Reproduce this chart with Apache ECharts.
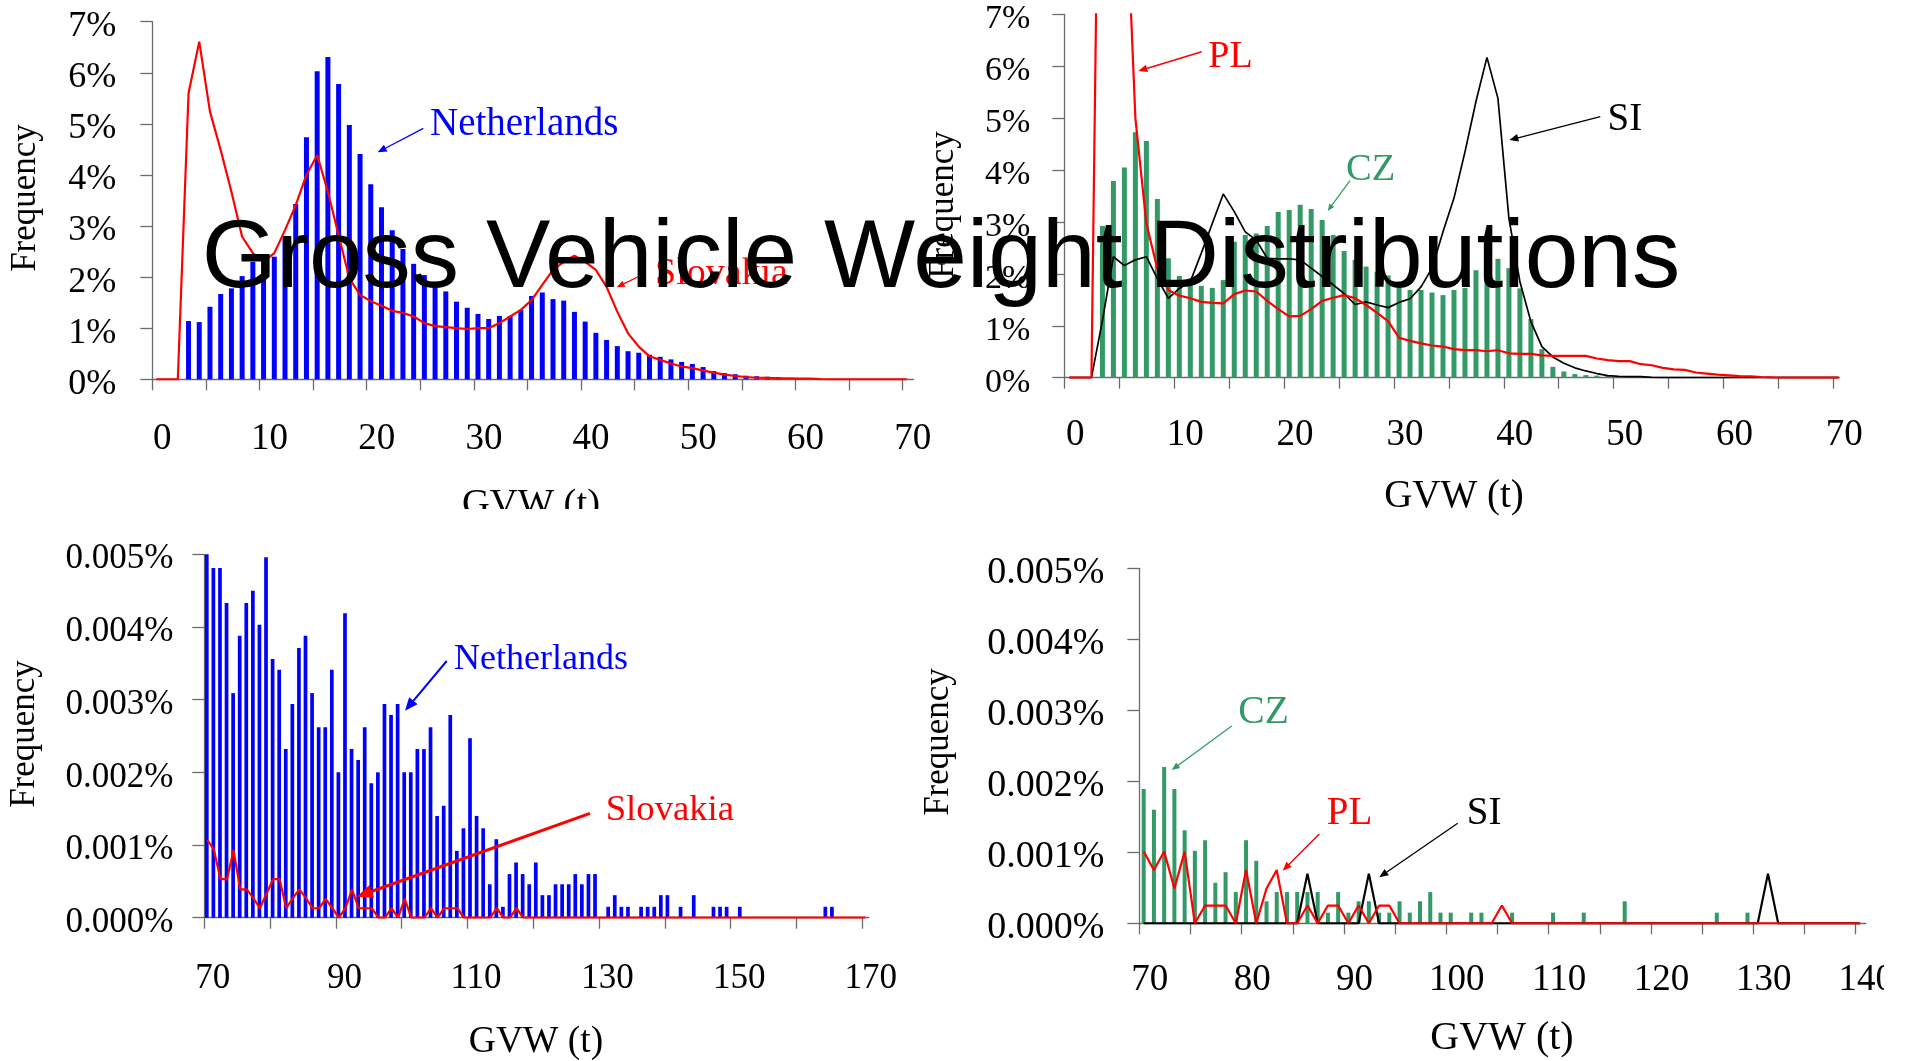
<!DOCTYPE html>
<html><head><meta charset="utf-8">
<script src="https://cdn.jsdelivr.net/npm/echarts@6/dist/echarts.min.js"></script>
<style>html,body{margin:0;padding:0;background:#fff}#c{width:1914px;height:1061px}</style>
</head><body><div id="c"></div>
<script>
// ---------- DATA (frequency in %, one value per 1-t GVW bin) ----------
// Top-left: Netherlands (bars, bins 3..58) and Slovakia (line, bins 0..70)
const nlTopFirstBin = 3;
const nlTopFreq = [1.14,1.12,1.42,1.67,1.78,2.02,2.30,2.40,2.40,2.80,3.43,4.74,6.03,6.31,5.78,4.98,4.41,3.82,3.37,2.92,
  2.55,2.26,2.04,1.90,1.72,1.52,1.40,1.28,1.18,1.24,1.24,1.36,1.63,1.70,1.57,1.54,1.32,1.13,0.91,0.77,
  0.65,0.55,0.52,0.48,0.44,0.39,0.34,0.30,0.24,0.16,0.12,0.10,0.07,0.06,0.05,0.04];
const skTopFirstBin = 0;
const skTopFreq = [0,0,0,5.60,6.61,5.24,4.49,3.67,2.79,2.47,
  2.30,2.47,2.92,3.41,4.00,4.39,3.67,2.82,1.98,1.65,
  1.53,1.44,1.34,1.30,1.23,1.10,1.04,1.02,1.00,0.985,
  1.00,1.00,1.10,1.23,1.36,1.55,1.85,2.14,2.30,2.42,
  2.30,2.14,1.81,1.32,0.90,0.64,0.45,0.38,0.31,0.25,
  0.22,0.17,0.13,0.09,0.065,0.045,0.03,0.026,0.02,0.02,
  0.015,0.013,0.005,0,0,0,0,0,0,0,0];
// Top-right: CZ (bars, bins 3..49), PL and SI (lines, bins 0..70)
const czTopFirstBin = 3;
const czTopFreq = [2.92,3.79,4.05,4.73,4.56,3.44,2.30,1.96,1.85,1.77,1.73,1.88,2.62,2.75,2.78,2.92,3.19,3.23,3.33,3.25,
  3.04,2.75,2.44,2.27,2.14,2.04,1.97,1.85,1.69,1.69,1.64,1.59,1.69,1.73,2.07,2.18,2.29,2.11,1.72,1.13,
  0.55,0.21,0.12,0.07,0.05,0.04,0.03];
const plTopFirstBin = 0;
const plTopFreq = [0,0,0,16.7,14.0,10.1,5.00,2.97,2.10,1.69,
  1.58,1.53,1.46,1.44,1.43,1.61,1.68,1.66,1.48,1.32,
  1.18,1.19,1.32,1.48,1.54,1.59,1.53,1.40,1.25,1.09,
  0.77,0.71,0.66,0.62,0.60,0.55,0.53,0.53,0.51,0.53,
  0.47,0.46,0.46,0.43,0.42,0.42,0.42,0.42,0.37,0.34,
  0.32,0.32,0.26,0.24,0.19,0.16,0.15,0.10,0.08,0.06,
  0.045,0.03,0.026,0.013,0.006,0,0,0,0,0,0];
const siTopFirstBin = 0;
const siTopFreq = [0,0,0,1.10,2.33,2.16,2.27,2.33,1.91,1.53,
  1.72,1.85,2.40,2.97,3.54,3.20,2.81,2.65,2.30,2.29,
  2.29,2.27,2.11,1.95,1.79,1.62,1.41,1.46,1.40,1.35,
  1.45,1.52,1.75,2.11,2.81,3.46,4.35,5.32,6.17,5.38,
  3.07,1.85,1.08,0.60,0.40,0.28,0.19,0.13,0.08,0.04,
  0.026,0.02,0.02,0.006,0,0,0,0,0,0,
  0,0,0,0,0,0,0,0,0,0,0];
// Bottom-left: Netherlands (bars, bins 70..165) and Slovakia (line, bins 70..170)
const nlLowFirstBin = 70;
const nlLowFreq = [0.00505,0.00481,0.00481,0.00433,0.00309,0.00388,0.00433,0.00450,0.00403,0.00496,
  0.00356,0.00341,0.00232,0.00294,0.00371,0.00388,0.00309,0.00262,0.00262,0.00341,
  0.00200,0.00419,0.00232,0.00217,0.00262,0.00185,0.00200,0.00294,0.00279,0.00294,
  0.00200,0.00200,0.00232,0.00232,0.00262,0.00140,0.00154,0.00279,0.00092,0.00123,
  0.00247,0.00140,0.00123,0.00046,0.00108,0.00015,0.00060,0.00076,0.00060,0.00046,
  0.00076,0.00031,0.00031,0.00046,0.00046,0.00046,0.00060,0.00046,0.00060,0.00060,
  0,0.00015,0.00031,0.00015,0.00015,0,0.00015,0.00015,0.00015,0.00031,
  0.00031,0,0.00015,0,0.00031,0,0,0.00015,0.00015,0.00015,
  0,0.00015,0,0,0,0,0,0,0,0,
  0,0,0,0,0.00015,0.00015];
const skLowFirstBin = 70;
const skLowFreq = [0.00107,0.00094,0.00053,0.00053,0.00093,0.00039,0.00039,0.00027,0.00013,0.00033,
  0.00053,0.00053,0.00013,0.00027,0.00039,0.00027,0.00013,0.00013,0.00026,0.00013,
  0,0.00013,0.00039,0.00013,0.00013,0.00013,0,0,0.00013,0,
  0.00026,0,0,0,0.00013,0,0.00013,0.00013,0.00013,0,
  0,0,0,0,0.00013,0,0,0.00013,0,0,
  0,0,0,0,0,0,0,0,0,0, 0,0,0,0,0,0,0,0,0,0, 0,0,0,0,0,0,0,0,0,0,
  0,0,0,0,0,0,0,0,0,0, 0,0,0,0,0,0,0,0,0,0, 0];
// Bottom-right: CZ (bars, bins 70..129), PL and SI (lines, bins 70..140)
const czLowFirstBin = 70;
const czLowFreq = [0.00189,0.00160,0.00220,0.00189,0.00131,0.00102,0.00117,0.00057,0.00072,0.00044,
  0.00117,0.00088,0.00031,0.00044,0.00044,0.00044,0.00044,0.00044,0.00015,0.00044,
  0.00015,0.00031,0.00031,0.00015,0.00015,0.00031,0.00015,0.00031,0.00044,0.00015,
  0.00015,0,0.00015,0.00015,0,0,0.00015,0,0,0,
  0.00015,0,0,0.00015,0,0,0,0.00031,0,0,
  0,0,0,0,0,0,0.00015,0,0,0.00015];
const plLowFirstBin = 70;
const plLowFreq = [0.00101,0.00075,0.00101,0.00049,0.00101,0,0.00025,0.00025,0.00025,0,
  0.00075,0,0.00049,0.00075,0,0,0.00025,0,0.00025,0.00025,
  0,0.00025,0,0.00025,0.00025,0,0,0,0,0,
  0,0,0,0,0,0.00025,0,0,0,0,
  0,0,0,0,0,0,0,0,0,0, 0,0,0,0,0,0,0,0,0,0, 0,0,0,0,0,0,0,0,0,0, 0];
const siLowFirstBin = 70;
const siLowFreq = [0,0,0,0,0,0,0,0,0,0,
  0,0,0,0,0,0,0.00070,0,0,0,
  0,0,0.00070,0,0,0,0,0,0,0,
  0,0,0,0,0,0,0,0,0,0, 0,0,0,0,0,0,0,0,0,0, 0,0,0,0,0,0,0,0,0,0,
  0,0.00070,0,0,0,0,0,0,0,0, 0];
// Axis tick / label values
const topTicks = [0,5,10,15,20,25,30,35,40,45,50,55,60,65,70];
const topLabels = [0,10,20,30,40,50,60,70];
const lowLTicks = [70,80,90,100,110,120,130,140,150,160,170];
const lowLLabels = [70,90,110,130,150,170];
const lowRTicks = [70,75,80,85,90,95,100,105,110,115,120,125,130,135,140];
const lowRLabels = [70,80,90,100,110,120,130,140];

// ---------- helpers ----------
function pts(first, vals, off) { return vals.map((v, i) => [first + i + off, v]); }
const AX = '#6b6b6b';
const SERIF = '"Liberation Serif", "Times New Roman", serif';

function xAxisCfg(grid, max, min, ticks, labels, fs, margin, shift) {
  return {
    type: 'value', gridIndex: grid, min: min, max: max,
    axisLine: {show: true, onZero: true, lineStyle: {color: AX, width: 1.3}},
    axisTick: {show: true, inside: false, length: 11, customValues: ticks, lineStyle: {color: AX, width: 1.3}},
    axisLabel: {show: true, customValues: labels, color: '#000', fontFamily: SERIF, fontSize: fs,
      margin: margin, padding: [0, 0, 0, shift],
      formatter: v => (labels.indexOf(v) >= 0 ? String(v) : '')},
    splitLine: {show: false}
  };
}
function yAxisCfg(grid, max, interval, fmt, fs, margin, down) {
  return {
    type: 'value', gridIndex: grid, min: 0, max: max, interval: interval,
    axisLine: {show: true, lineStyle: {color: AX, width: 1.3}},
    axisTick: {show: true, inside: false, length: 12, lineStyle: {color: AX, width: 1.3}},
    axisLabel: {color: '#000', fontFamily: SERIF, fontSize: fs, margin: margin,
      verticalAlign: 'top', lineHeight: down * 2, formatter: fmt},
    splitLine: {show: false}
  };
}
function bar(idx, data, color, w) {
  return {type: 'bar', xAxisIndex: idx, yAxisIndex: idx, data: data, barWidth: w,
    itemStyle: {color: color}, z: 2, silent: true};
}
function line(idx, data, color, w, z) {
  return {type: 'line', xAxisIndex: idx, yAxisIndex: idx, data: data, symbol: 'none',
    lineStyle: {color: color, width: w}, clip: true, z: z || 3, silent: true};
}
function txt(s, x, baseline, size, color, align) {
  return {type: 'text', x: x, y: baseline - 0.3375 * size + 5, z: 100,
    style: {text: s, fill: color, font: size + 'px ' + SERIF, align: align || 'left', verticalAlign: 'middle',
      textAlign: align || 'left', textVerticalAlign: 'middle'}};
}
function vtxt(s, cx, cy, size) {
  return {type: 'text', x: cx, y: cy, rotation: Math.PI / 2, z: 100,
    style: {text: s, fill: '#000', font: size + 'px ' + SERIF, align: 'center', verticalAlign: 'middle',
      textAlign: 'center', textVerticalAlign: 'middle'}};
}
function arrow(x1, y1, x2, y2, color, w, head) {
  const a = Math.atan2(y2 - y1, x2 - x1);
  const hw = head * 0.42;
  const bx = x2 - head * Math.cos(a), by = y2 - head * Math.sin(a);
  return [
    {type: 'line', z: 100, shape: {x1: x1, y1: y1, x2: bx + Math.cos(a) * 2, y2: by + Math.sin(a) * 2},
      style: {stroke: color, lineWidth: w}},
    {type: 'polygon', z: 100, shape: {points: [[x2, y2], [bx + hw * Math.sin(a), by - hw * Math.cos(a)],
      [bx - hw * Math.sin(a), by + hw * Math.cos(a)]]}, style: {fill: color}}
  ];
}

const chart = echarts.init(document.getElementById('c'), null, {renderer: 'canvas', width: 1914, height: 1061});
const pctInt = v => v + '%';
const pct3 = v => v.toFixed(3) + '%';

const graphics = [].concat(
  [{type: 'text', x: 941, y: 290 - 0.3465 * 96.5 + 4, z: 200,
    style: {text: 'Gross Vehicle Weight Distributions', fill: '#000', font: '96.5px "Liberation Sans", Arial, sans-serif',
      align: 'center', verticalAlign: 'middle', textAlign: 'center', textVerticalAlign: 'middle'}}],
  // axis titles
  [vtxt('Frequency', 26, 198, 35), vtxt('Frequency', 944, 205, 35),
   vtxt('Frequency', 25, 734, 35), vtxt('Frequency', 939, 742, 35),
   txt('GVW (t)', 531, 513, 38.5, '#000', 'center'), txt('GVW (t)', 1454, 505, 39, '#000', 'center'),
   txt('GVW (t)', 536, 1050, 37.5, '#000', 'center'), txt('GVW (t)', 1502, 1047, 40, '#000', 'center')],
  // annotations
  [txt('Netherlands', 430, 133.3, 39, '#0000ff')], arrow(423.3, 128.3, 377.7, 152.3, '#0000ff', 1.3, 9),
  [txt('Slovakia', 655, 281.7, 38, '#ff0000')], arrow(641.7, 275, 616.7, 287.3, '#ff0000', 1.3, 8),
  [txt('PL', 1208.3, 65, 38, '#ff0000')], arrow(1201.7, 51.7, 1138.3, 71, '#ff0000', 1.5, 9),
  [txt('CZ', 1346, 177.7, 38.5, '#339966')], arrow(1350, 180.7, 1327.7, 211, '#339966', 1.2, 7),
  [txt('SI', 1607.6, 127.7, 39, '#000000')], arrow(1600.3, 116.7, 1509.3, 140, '#000000', 1.3, 9),
  [txt('Netherlands', 454, 666.7, 36, '#0000ff')], arrow(446.7, 661, 405, 710.7, '#0000ff', 2, 13),
  [txt('Slovakia', 605.7, 817.3, 36.7, '#ff0000')], arrow(590, 813.3, 356.7, 896.7, '#ff0000', 3, 16),
  [txt('CZ', 1238.3, 721, 39.5, '#339966')], arrow(1231.7, 726, 1171.7, 770, '#339966', 1.3, 8),
  [txt('PL', 1326.7, 822.3, 39, '#ff0000')], arrow(1319.3, 834, 1282.7, 870.7, '#ff0000', 1.5, 9),
  [txt('SI', 1466.7, 822.3, 39, '#000000')], arrow(1457.7, 823.3, 1379.3, 877.3, '#000000', 1.3, 9),
  // page edges of the original picture
  [{type: 'rect', z: 150, shape: {x: 430, y: 509, width: 220, height: 28}, style: {fill: '#fff'}},
   {type: 'rect', z: 150, shape: {x: 1884, y: 930, width: 30, height: 80}, style: {fill: '#fff'}}]
);

chart.setOption({
  animation: false,
  backgroundColor: '#fff',
  grid: [
    {left: 152.3, top: 21.7, width: 761.1, height: 357.6},
    {left: 1064.3, top: 14.3, width: 775.1, height: 363.4},
    {left: 204.3, top: 554.3, width: 664.6, height: 363.4},
    {left: 1139.3, top: 568.3, width: 726.6, height: 355}
  ],
  xAxis: [
    xAxisCfg(0, 71, 0, topTicks, topLabels, 37, 41, 20),
    xAxisCfg(1, 70.55, 0, topTicks, topLabels, 37, 39, 22),
    xAxisCfg(2, 171, 70, lowLTicks, lowLLabels, 35, 44, 17),
    xAxisCfg(3, 141, 70, lowRTicks, lowRLabels, 37, 38, 21)
  ],
  yAxis: [
    yAxisCfg(0, 7, 1, pctInt, 36, 36, 5),
    yAxisCfg(1, 7, 1, pctInt, 34, 34, 5),
    yAxisCfg(2, 0.005, 0.001, pct3, 35, 31, 5),
    yAxisCfg(3, 0.005, 0.001, pct3, 38, 35, 5)
  ],
  series: [
    bar(0, pts(nlTopFirstBin, nlTopFreq, 0.38), '#0000ff', 5),
    line(0, pts(skTopFirstBin, skTopFreq, 0.38), '#ff0000', 2.2),
    bar(1, pts(czTopFirstBin, czTopFreq, 0.47), '#339966', 5),
    line(1, pts(siTopFirstBin, siTopFreq, 0.47), '#000000', 1.7, 3),
    line(1, pts(plTopFirstBin, plTopFreq, 0.47), '#ff0000', 2.2, 4),
    bar(2, pts(nlLowFirstBin, nlLowFreq, 0.38), '#0000ff', 3.7),
    line(2, pts(skLowFirstBin, skLowFreq, 0.45), '#ff0000', 2.2),
    bar(3, pts(czLowFirstBin, czLowFreq, 0.43), '#339966', 4),
    line(3, pts(siLowFirstBin, siLowFreq, 0.43), '#000000', 2.2, 3),
    line(3, pts(plLowFirstBin, plLowFreq, 0.43), '#ff0000', 2.2, 4)
  ],
  graphic: {elements: graphics}
});
</script></body></html>
